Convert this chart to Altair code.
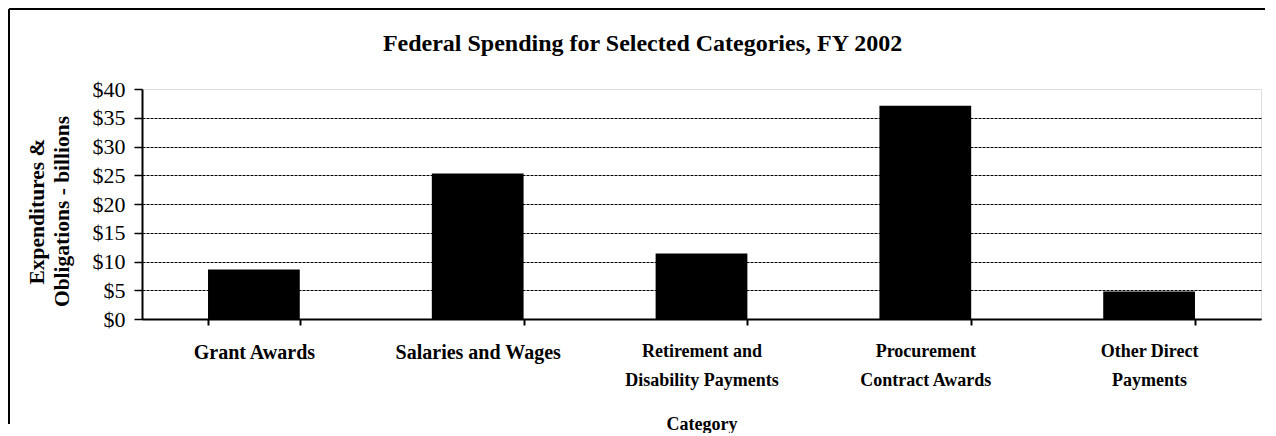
import altair as alt
import pandas as pd

categories = [
    "Grant Awards",
    "Salaries and Wages",
    "Retirement and\nDisability Payments",
    "Procurement\nContract Awards",
    "Other Direct\nPayments",
]
values = [8.6, 25.3, 11.4, 37.1, 4.8]
y_ticks = [0, 5, 10, 15, 20, 25, 30, 35, 40]

W, H = 1119, 230
SERIF = "Liberation Serif"

df = pd.DataFrame({"category": categories, "value": values})
one = pd.DataFrame({"a": [0]})

bars = alt.Chart(df).mark_bar(color="black", stroke=None).encode(
    x=alt.X(
        "category:N",
        sort=categories,
        scale=alt.Scale(paddingInner=0.59, paddingOuter=0.295),
        axis=alt.Axis(
            title="Category",
            labelExpr="split(datum.label, '\\n')",
            labelAngle=0,
            labelFont=SERIF,
            labelFontWeight="bold",
            labelFontSize={
                "condition": {"test": "indexof(datum.label, '\\n') < 0", "value": 20},
                "value": 18,
            },
            labelLineHeight=29,
            labelColor="black",
            labelPadding=17,
            labelLimit=400,
            tickBand="extent",
            tickSize=6,
            tickWidth=2,
            tickColor="black",
            domainColor="black",
            domainWidth=2,
            grid=False,
            titleFont=SERIF,
            titleFontWeight="bold",
            titleFontSize=18,
            titleColor="black",
            titlePadding=26,
        ),
    ),
    y=alt.Y(
        "value:Q",
        scale=alt.Scale(domain=[0, 40], nice=False),
        axis=alt.Axis(
            values=y_ticks,
            format="$,.0f",
            title=["Expenditures &", "Obligations - billions"],
            titleAngle=270,
            titleX=-105,
            titleY=H / 2 + 7,
            titleAlign="center",
            titleBaseline="middle",
            titleLineHeight=25,
            titleFont=SERIF,
            titleFontWeight="bold",
            titleFontSize=21.5,
            titleColor="black",
            labelFont=SERIF,
            labelFontSize=22,
            labelColor="black",
            labelPadding=9,
            tickSize=8,
            tickWidth=1.5,
            tickColor="black",
            domainColor="black",
            domainWidth=2,
            grid=True,
            gridColor="black",
            gridDash=[3, 1],
            gridWidth=1,
            gridOpacity={"expr": "datum.value == 40 ? 0 : 1"},
        ),
    ),
)

frame_left = alt.Chart(one).mark_rule(color="black", strokeWidth=2).encode(
    x=alt.value(-133), y=alt.value(-80), y2=alt.value(335)
)
frame_top = alt.Chart(one).mark_rule(color="black", strokeWidth=2).encode(
    x=alt.value(-133), x2=alt.value(W + 4), y=alt.value(-80)
)

chart = (
    alt.layer(frame_left, frame_top, bars)
    .properties(
        width=W,
        height=H,
        padding=0,
        title=alt.TitleParams(
            "Federal Spending for Selected Categories, FY 2002",
            font=SERIF,
            fontWeight="bold",
            fontSize=24,
            color="black",
            anchor="middle",
            frame="group",
            dx=-59,
            offset=-48,
        ),
    )
    .configure_view(stroke="#808080", strokeWidth=1.5)
    .configure(background="white")
)

chart.save("out.html", embed_options={"renderer": "svg", "actions": False})
